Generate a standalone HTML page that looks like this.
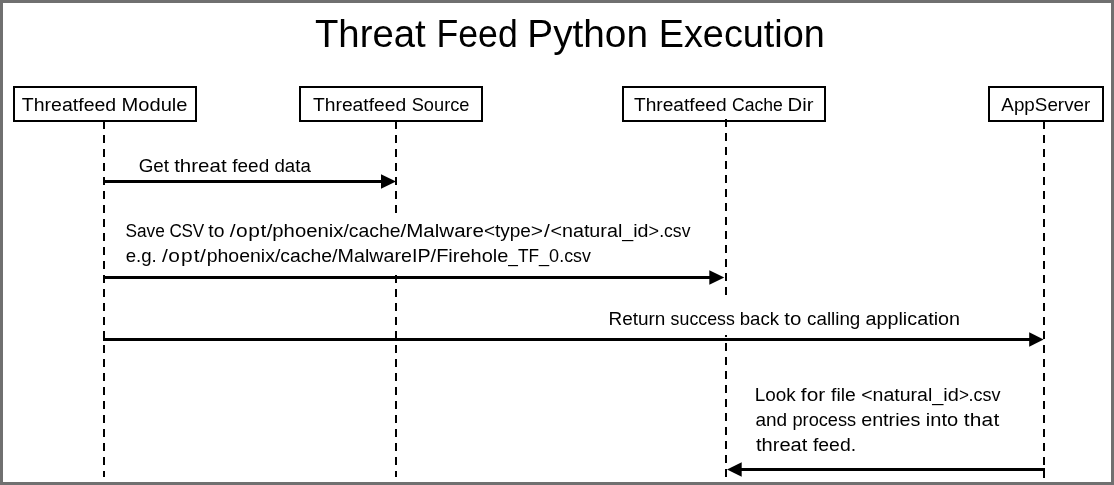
<!DOCTYPE html>
<html><head><meta charset="utf-8"><style>
html,body{margin:0;padding:0;width:1114px;height:485px;overflow:hidden;background:#707070}
#c{position:absolute;left:3px;top:3px;width:1108px;height:479px;background:#fff}
svg{position:absolute;left:0;top:0;will-change:transform}
text{font-family:"Liberation Sans",sans-serif;fill:#000;white-space:pre}
</style></head><body><div id="c"></div>
<svg width="1114" height="485" viewBox="0 0 1114 485">
<rect x="14" y="87" width="182" height="34" fill="#fff" stroke="#000" stroke-width="2"/>
<rect x="300" y="87" width="182" height="34" fill="#fff" stroke="#000" stroke-width="2"/>
<rect x="623" y="87" width="202" height="34" fill="#fff" stroke="#000" stroke-width="2"/>
<rect x="989" y="87" width="114" height="34" fill="#fff" stroke="#000" stroke-width="2"/>
<line x1="104" y1="121" x2="104" y2="477" stroke="#000" stroke-width="2" stroke-dasharray="8 6"/>
<line x1="396" y1="121" x2="396" y2="477" stroke="#000" stroke-width="2" stroke-dasharray="8 6"/>
<line x1="726" y1="119" x2="726" y2="477" stroke="#000" stroke-width="2" stroke-dasharray="8 6"/>
<line x1="1044" y1="121" x2="1044" y2="478" stroke="#000" stroke-width="2" stroke-dasharray="8 6"/>
<rect x="118" y="215" width="580" height="60" fill="#fff"/>
<rect x="602" y="298" width="364" height="37" fill="#fff"/>
<rect x="103" y="180" width="280" height="3"/>
<polygon points="381,174.3 396,181.5 381,188.7"/>
<rect x="103" y="276" width="608" height="3"/>
<polygon points="709.3,270.2 724.3,277.5 709.3,284.8"/>
<rect x="103" y="338" width="928" height="3"/>
<polygon points="1029.2,332.2 1043.6,339.5 1029.2,346.8"/>
<rect x="740" y="468" width="305" height="3"/>
<polygon points="741.7,462.2 727,469.5 741.7,476.8"/>
<text transform="translate(0,47) scale(0.9826,1)" x="320.53 344.34 366.03 379.03 400.72 422.41" font-size="39">Threat</text>
<text transform="translate(0,47) scale(0.9126,1)" x="478.39 502.20 523.90 545.59" font-size="39">Feed</text>
<text transform="translate(0,47) scale(0.9935,1)" x="530.77 556.79 576.29 587.13 608.82 630.51" font-size="39">Python</text>
<text transform="translate(0,47) scale(0.9691,1)" x="679.77 705.77 725.27 746.97 766.47 788.16 798.99 807.66 829.35" font-size="39">Execution</text>
<text transform="translate(0,111) scale(1.0266,1)" x="21.29 32.88 43.46 49.79 60.35 70.91 76.19 81.48 92.04 102.60" font-size="19">Threatfeed</text>
<text transform="translate(0,111) scale(1.0582,1)" x="114.86 130.69 141.27 151.83 162.39 166.61" font-size="19">Module</text>
<text transform="translate(0,111) scale(1.0153,1)" x="308.23 319.82 330.40 336.73 347.29 357.86 363.14 368.42 378.98 389.54" font-size="19">Threatfeed</text>
<text transform="translate(0,111) scale(0.9606,1)" x="428.56 441.25 451.81 462.37 468.70 478.20" font-size="19">Source</text>
<text transform="translate(0,111) scale(1.0070,1)" x="629.64 641.23 651.81 658.14 668.70 679.26 684.54 689.82 700.39 710.95" font-size="19">Threatfeed</text>
<text transform="translate(0,111) scale(0.9263,1)" x="790.22 803.96 814.52 824.02 834.58" font-size="19">Cache</text>
<text transform="translate(0,111) scale(1.0670,1)" x="738.11 751.82 756.06" font-size="19">Dir</text>
<text transform="translate(0,111) scale(0.9911,1)" x="1010.34 1023.01 1033.58 1044.14 1056.81 1067.37 1073.70 1083.20 1093.78" font-size="19">AppServer</text>
<text transform="translate(0,172) scale(0.9885,1)" x="140.34 155.10 165.68" font-size="19">Get</text>
<text transform="translate(0,172) scale(1.0787,1)" x="161.47 166.75 177.31 183.64 194.22 204.78" font-size="19">threat</text>
<text transform="translate(0,172) scale(0.9973,1)" x="232.94 238.21 248.79 259.35" font-size="19">feed</text>
<text transform="translate(0,172) scale(0.9820,1)" x="279.50 290.07 300.64 305.92" font-size="19">data</text>
<text transform="translate(0,237) scale(0.9097,1)" x="137.86 150.54 161.10 170.60" font-size="19">Save</text>
<text transform="translate(0,237) scale(0.9000,1)" x="188.45 201.76 214.07" font-size="19">CSV</text>
<text transform="translate(0,237) scale(1.0189,1)" x="204.44 209.72" font-size="19">to</text>
<text transform="translate(0,237) scale(1.1000,1)" x="208.91 214.55 225.75 236.88" font-size="19">/opt</text>
<text transform="translate(0,237) scale(1.0676,1)" x="249.82 255.11 265.67 276.25 286.81 297.37 307.95 312.17" font-size="19">/phoenix</text>
<text transform="translate(0,237) scale(1.0202,1)" x="336.62 341.90 351.40 361.96 371.46 382.02" font-size="19">/cache</text>
<text transform="translate(0,237) scale(1.0817,1)" x="370.25 375.53 391.36 401.92 406.16 419.88 430.44 436.77" font-size="19">/Malware</text>
<text transform="translate(0,237) scale(0.9993,1)" x="484.29 495.38 500.66 510.16 520.74" font-size="19">&lt;type</text>
<text transform="translate(0,237) scale(1.1000,1)" x="482.59 494.55" font-size="19">&gt;/</text>
<text transform="translate(0,237) scale(1.0386,1)" x="529.97 541.06 551.62 562.19 567.47 578.04 584.37 594.94" font-size="19">&lt;natural</text>
<text transform="translate(0,237) scale(1.0343,1)" x="601.62 612.18 616.40" font-size="19">_id</text>
<text transform="translate(0,237) scale(0.9510,1)" x="682.00" font-size="19">&gt;</text>
<text transform="translate(0,237) scale(0.9248,1)" x="712.80 718.08 727.58 737.08" font-size="19">.csv</text>
<text transform="translate(0,262) scale(0.9815,1)" x="128.01 138.57 143.85 154.42" font-size="19">e.g.</text>
<text transform="translate(0,262) scale(1.1000,1)" x="147.19 153.02 164.66 176.14 181.92" font-size="19">/opt/</text>
<text transform="translate(0,262) scale(1.0252,1)" x="201.61 212.17 222.73 233.31 243.87 254.44 258.65" font-size="19">phoenix</text>
<text transform="translate(0,262) scale(1.0217,1)" x="269.08 274.36 283.86 294.42 303.92 314.50" font-size="19">/cache</text>
<text transform="translate(0,262) scale(1.0365,1)" x="320.42 325.70 341.53 352.09 356.31 370.03 380.61 386.94 397.50 402.78" font-size="19">/MalwareIP</text>
<text transform="translate(0,262) scale(1.0521,1)" x="409.28 414.56 426.16 430.39 436.71 447.28 457.85 468.41 472.63" font-size="19">/Firehole</text>
<text transform="translate(0,262) scale(0.9088,1)" x="559.37 569.93 581.54" font-size="19">_TF</text>
<text transform="translate(0,262) scale(0.9507,1)" x="567.01 577.57" font-size="19">_0</text>
<text transform="translate(0,262) scale(0.9374,1)" x="596.53 601.81 611.31 620.81" font-size="19">.csv</text>
<text transform="translate(0,325) scale(0.9978,1)" x="609.78 623.50 634.06 639.35 649.91 656.24" font-size="19">Return</text>
<text transform="translate(0,325) scale(0.9356,1)" x="716.79 726.29 736.85 746.35 755.85 766.43 775.93" font-size="19">success</text>
<text transform="translate(0,325) scale(0.9813,1)" x="753.83 764.39 774.95 784.45" font-size="19">back</text>
<text transform="translate(0,325) scale(1.0737,1)" x="730.47 735.75" font-size="19">to</text>
<text transform="translate(0,325) scale(0.9893,1)" x="815.76 825.26 835.83 840.05 844.28 848.50 859.06" font-size="19">calling</text>
<text transform="translate(0,325) scale(1.0412,1)" x="831.22 841.78 852.36 862.92 867.14 871.36 880.86 891.43 896.70 900.93 911.50" font-size="19">application</text>
<text transform="translate(0,401) scale(0.9937,1)" x="759.49 770.05 780.61 791.18" font-size="19">Look</text>
<text transform="translate(0,401) scale(1.0964,1)" x="730.46 735.74 746.31" font-size="19">for</text>
<text transform="translate(0,401) scale(1.0193,1)" x="815.29 820.57 824.79 829.01" font-size="19">file</text>
<text transform="translate(0,401) scale(1.0281,1)" x="837.62 848.73 859.29 869.86 875.14 885.70 892.03 902.59" font-size="19">&lt;natural</text>
<text transform="translate(0,401) scale(1.0500,1)" x="887.89 898.45 902.67" font-size="19">_id</text>
<text transform="translate(0,401) scale(0.9000,1)" x="1065.60" font-size="19">&gt;</text>
<text transform="translate(0,401) scale(0.9468,1)" x="1022.86 1028.14 1037.64 1047.14" font-size="19">.csv</text>
<text transform="translate(0,426) scale(1.0006,1)" x="754.96 765.52 776.09" font-size="19">and</text>
<text transform="translate(0,426) scale(0.9578,1)" x="827.38 837.94 844.27 854.85 864.35 874.91 884.41" font-size="19">process</text>
<text transform="translate(0,426) scale(1.0382,1)" x="829.51 840.07 850.63 855.91 862.24 866.46 877.04" font-size="19">entries</text>
<text transform="translate(0,426) scale(1.0562,1)" x="876.61 880.84 891.40 896.68" font-size="19">into</text>
<text transform="translate(0,426) scale(1.1000,1)" x="876.16 881.58 892.37 903.15" font-size="19">that</text>
<text transform="translate(0,451) scale(1.0568,1)" x="715.38 720.64 731.22 737.55 748.11 758.68" font-size="19">threat</text>
<text transform="translate(0,451) scale(1.0215,1)" x="795.81 801.09 811.65 822.22 832.79" font-size="19">feed.</text>
</svg></body></html>
